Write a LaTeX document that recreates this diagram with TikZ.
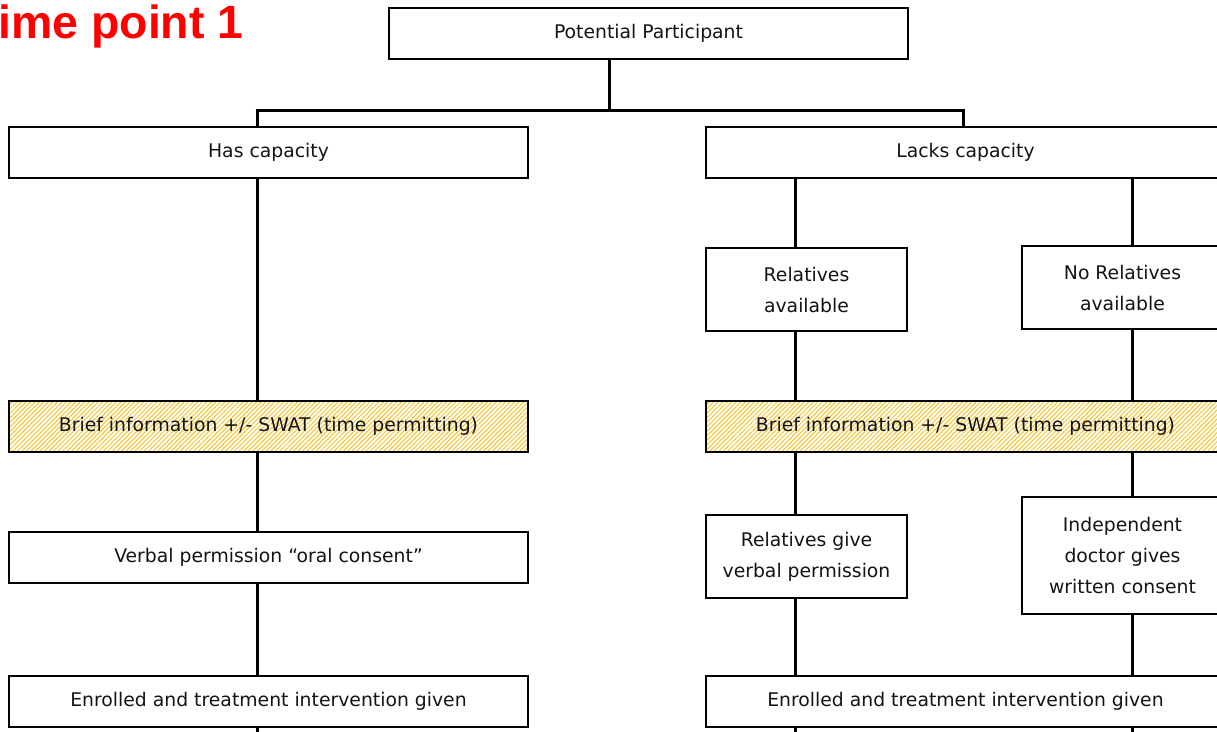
\documentclass[tikz,border=0pt]{standalone}
\usepackage{fontspec}
\setmainfont{DejaVu Sans}
\newfontfamily\titlefont{Liberation Sans}
\usepackage{tikz}
\usetikzlibrary{positioning,patterns.meta}
\usepackage{xcolor}
\definecolor{hatchgold}{RGB}{246,196,40}
\definecolor{boxtext}{RGB}{20,20,20}

\begin{document}
\begin{tikzpicture}[
        x=1pt, y=-1pt,
        box/.style={rectangle, draw, line width=1.6pt, fill=white, text=boxtext, align=center, inner sep=2pt, minimum width=519pt, minimum height=51pt, font=\fontsize{18.8}{31}\selectfont},
        smallbox/.style={box, minimum width=201pt, minimum height=83pt},
        hatched/.style={box, fill=none, pattern={Lines[angle=45, distance=3.2pt, line width=1pt]}, pattern color=hatchgold},
        conn/.style={line width=3pt}
    ]
        \useasboundingbox (0,0) rectangle (1217,731);
        \clip (0,0) rectangle (1217,731);
        \fill[white] (0,0) rectangle (1217,731);

        % Title
        \node[anchor=base west, inner sep=0pt, text=red, font=\titlefont\bfseries\fontsize{46.5}{50}\selectfont] (title) at (-2,38) {ime point 1};

        % Root node
        \node[box] (root) at (648.5,33.5) {Potential Participant};

        % First split
        \node[box] (has_cap) at (268.5,152.5) {Has capacity};
        \node[box] (lacks_cap) at (965.5,152.5) {Lacks capacity};

        % Relatives nodes
        \node[smallbox] (rel_avail) at (806.5,289.5) {Relatives\\available};
        \node[smallbox] (norel_avail) at (1122.5,287.5) {No Relatives\\available};

        % Brief information
        \node[hatched] (brief_left) at (268.5,426.5) {Brief information +/- SWAT (time permitting)};
        \node[hatched] (brief_right) at (965.5,426.5) {Brief information +/- SWAT (time permitting)};

        % Consent nodes
        \node[box] (verbal_left) at (268.5,557.5) {Verbal permission “oral consent”};
        \node[smallbox] (rel_give) at (806.5,556.5) {Relatives give\\verbal permission};
        \node[smallbox, minimum height=117pt] (doc_give) at (1122.5,555.5) {Independent\\doctor gives\\written consent};

        % Enrolled nodes
        \node[box] (enrol_left) at (268.5,701.5) {Enrolled and treatment intervention given};
        \node[box] (enrol_right) at (965.5,701.5) {Enrolled and treatment intervention given};

        % Column coordinates
        \coordinate (split) at (609,110);
        \coordinate (col_left) at (257,110);
        \coordinate (col_right) at (963,110);
        \coordinate (col_a) at (795,740);
        \coordinate (col_b) at (1132,740);
        \coordinate (end_left) at (257,740);

        % Connections
        \draw[conn] (root.south -| split) -- (split);
        \draw[conn] ([xshift=-1.5pt]col_left) -- ([xshift=1.5pt]col_right);
        \draw[conn] (col_left) -- (has_cap.north -| col_left);
        \draw[conn] (col_right) -- (lacks_cap.north -| col_right);

        \draw[conn] (has_cap.south -| col_left) -- (brief_left.north -| col_left);
        \draw[conn] (brief_left.south -| col_left) -- (verbal_left.north -| col_left);
        \draw[conn] (verbal_left.south -| col_left) -- (enrol_left.north -| col_left);
        \draw[conn] (enrol_left.south -| col_left) -- (end_left);

        \draw[conn] (lacks_cap.south -| col_a) -- (rel_avail.north -| col_a);
        \draw[conn] (rel_avail.south -| col_a) -- (brief_right.north -| col_a);
        \draw[conn] (brief_right.south -| col_a) -- (rel_give.north -| col_a);
        \draw[conn] (rel_give.south -| col_a) -- (enrol_right.north -| col_a);
        \draw[conn] (enrol_right.south -| col_a) -- (col_a);

        \draw[conn] (lacks_cap.south -| col_b) -- (norel_avail.north -| col_b);
        \draw[conn] (norel_avail.south -| col_b) -- (brief_right.north -| col_b);
        \draw[conn] (brief_right.south -| col_b) -- (doc_give.north -| col_b);
        \draw[conn] (doc_give.south -| col_b) -- (enrol_right.north -| col_b);
        \draw[conn] (enrol_right.south -| col_b) -- (col_b);

    \end{tikzpicture}
\end{document}
